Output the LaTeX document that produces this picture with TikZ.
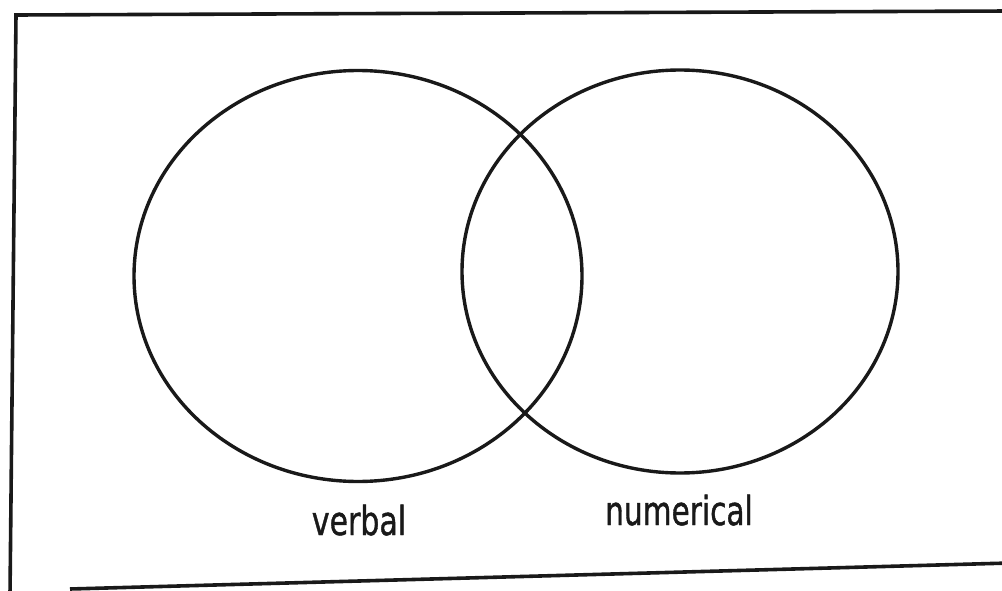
\documentclass[tikz,border=0pt]{standalone}
\usepackage{fontspec}
\setmainfont{DejaVu Sans}
\newfontfamily\labelfont[FakeBold=1.2]{DejaVu Sans}
\usetikzlibrary{shapes.geometric}
\tikzset{
  setshape/.style={ellipse, draw=black!90, line width=3.4pt, inner sep=0pt, outer sep=0pt},
  setlabel/.style={anchor=base, inner sep=0pt, font=\labelfont\fontsize{40}{44}\selectfont, text=black!90},
  frameline/.style={draw=black!90, line width=3.6pt, line join=miter}
}
\begin{document}
\begin{tikzpicture}[x=1pt, y=-1pt]
\useasboundingbox (0,0) rectangle (1002,591);
\fill[white] (0,0) rectangle (1002,591);
% frame (scanned, slightly skewed)
\coordinate (fbl) at (10,595);
\coordinate (ftl) at (16,15);
\coordinate (ftr) at (1010,11);
\coordinate (fbr) at (1010,563);
\coordinate (fbs) at (70,589);
\draw[frameline] (fbl) -- (ftl) -- (ftr);
\draw[frameline] (fbs) -- (fbr);
% sets
\node[setshape, minimum width=448pt, minimum height=411pt] (verbal) at (358,276) {};
\node[setshape, minimum width=436pt, minimum height=403pt] (numerical) at (680,271.5) {};
% labels
\node[setlabel] (lv) at (359,535) {\scalebox{0.75}[1]{verbal}};
\node[setlabel] (ln) at (679,525) {\scalebox{0.74}[1]{numerical}};
\end{tikzpicture}
\end{document}
